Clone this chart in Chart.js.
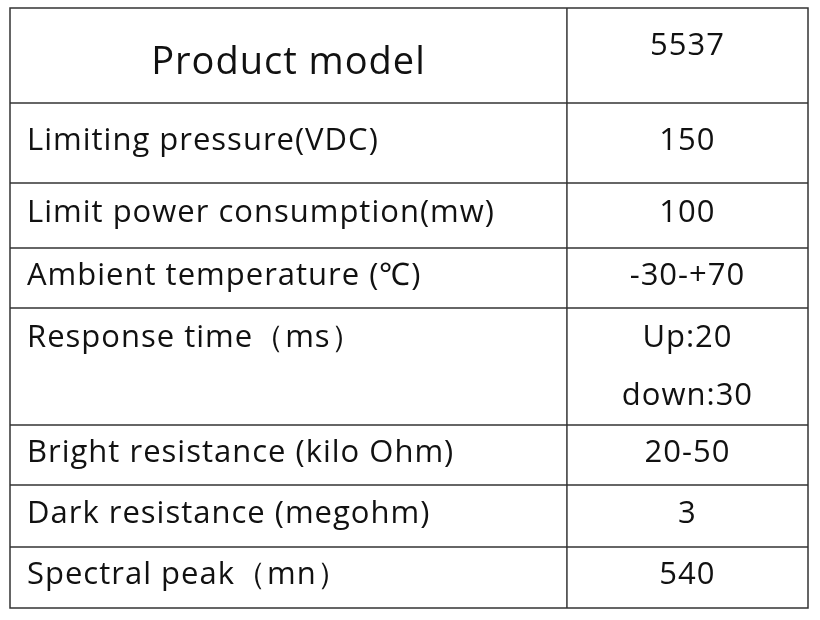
<!DOCTYPE html>
<html>
<head>
<meta charset="utf-8">
<script src="https://cdn.jsdelivr.net/npm/chart.js@4/dist/chart.umd.min.js"></script>
<style>
  body { margin: 0; background: #fff; }
  #wrap { width: 820px; height: 620px; }
</style>
</head>
<body>
<div id="wrap"><canvas id="myChart"></canvas></div>
<script>
// table content
var labels = ['Product model', 'Limiting pressure(VDC)', 'Limit power consumption(mw)',
  'Ambient temperature (\u2103)', 'Response time\uFF08ms\uFF09', 'Bright resistance (kilo Ohm)',
  'Dark resistance (megohm)', 'Spectral peak\uFF08mn\uFF09'];
var values = [['5537'], ['150'], ['100'], ['-30-+70'], ['Up:20', 'down:30'], ['20-50'], ['3'], ['540']];

// row sizes in table units (layout, not data)
var rowSizes = [95, 80, 65, 60, 117, 60, 62, 61];
var total = rowSizes.reduce((a, b) => a + b, 0);

var tablePlugin = {
  id: 'table',
  afterDraw(chart) {
    const c = chart.ctx, x = chart.scales.x, y = chart.scales.y;
    const x0 = x.getPixelForValue(0), x1 = x.getPixelForValue(0.6979), x2 = x.getPixelForValue(1);
    c.save();
    c.strokeStyle = '#333';
    c.lineWidth = 1.5;
    let pos = 0;
    c.strokeRect(x0, y.getPixelForValue(0), x2 - x0, y.getPixelForValue(total) - y.getPixelForValue(0));
    c.beginPath();
    c.moveTo(x1, y.getPixelForValue(0)); c.lineTo(x1, y.getPixelForValue(total));
    c.stroke();
    c.fillStyle = '#111';
    c.textBaseline = 'middle';
    c.letterSpacing = '1px';
    const f = '31px "Open Sans", Lato, sans-serif';
    rowSizes.forEach((h, i) => {
      const top = y.getPixelForValue(pos), bot = y.getPixelForValue(pos + h);
      if (i > 0) { c.beginPath(); c.moveTo(x0, top); c.lineTo(x2, top); c.stroke(); }
      const mid = (top + bot) / 2;
      const cx = (x1 + x2) / 2;
      if (i === 0) {
        c.font = '38px "Open Sans", Lato, sans-serif';
        c.textAlign = 'center';
        c.fillText(labels[i], (x0 + x1) / 2, mid + 8);
        c.font = f;
        c.fillText(values[i][0], cx, top + 38);
      } else if (values[i].length > 1) {
        c.font = f;
        c.textAlign = 'left';
        c.fillText(labels[i], x0 + 17, top + 30);
        c.textAlign = 'center';
        values[i].forEach((v, k) => c.fillText(v, cx, top + 30 + k * 58));
      } else {
        c.font = f;
        c.textAlign = 'left';
        c.fillText(labels[i], x0 + 17, mid - 2);
        c.textAlign = 'center';
        c.fillText(values[i][0], cx, mid - 2);
      }
      pos += h;
    });
    c.restore();
  }
};

new Chart(document.getElementById('myChart'), {
  type: 'scatter',
  data: { datasets: [{ data: [], pointRadius: 0 }] },
  options: {
    responsive: true,
    maintainAspectRatio: false,
    animation: false,
    layout: { padding: { left: 10, right: 12, top: 8, bottom: 12 } },
    plugins: { legend: { display: false }, tooltip: { enabled: false } },
    scales: {
      x: { type: 'linear', min: 0, max: 1, display: false },
      y: { type: 'linear', min: 0, max: total, reverse: true, display: false }
    }
  },
  plugins: [tablePlugin]
});
</script>
</body>
</html>
